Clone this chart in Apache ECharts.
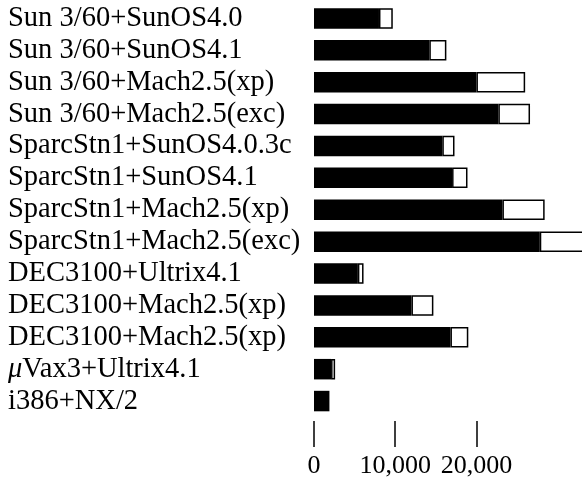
<!DOCTYPE html>
<html>
<head>
<meta charset="utf-8">
<script src="https://cdn.jsdelivr.net/npm/echarts@6/dist/echarts.min.js"></script>
<style>html,body{margin:0;padding:0;background:#fff}#c{width:582px;height:479px}</style>
</head>
<body>
<div id="c"></div>
<script>
const categories = [
  "Sun 3/60+SunOS4.0",
  "Sun 3/60+SunOS4.1",
  "Sun 3/60+Mach2.5(xp)",
  "Sun 3/60+Mach2.5(exc)",
  "SparcStn1+SunOS4.0.3c",
  "SparcStn1+SunOS4.1",
  "SparcStn1+Mach2.5(xp)",
  "SparcStn1+Mach2.5(exc)",
  "DEC3100+Ultrix4.1",
  "DEC3100+Mach2.5(xp)",
  "DEC3100+Mach2.5(xp)",
  "\u03bcVax3+Ultrix4.1",
  "i386+NX/2"
];
const blackValues = [8000, 14200, 20000, 22700, 15800, 17000, 23200, 27800, 5400, 12000, 16800, 2100, 1600];
const totalValues = [9700, 16300, 26000, 26600, 17300, 18900, 28400, 34000, 6100, 14700, 19000, 2600, 1900];
const whiteValues = totalValues.map((t, i) => t - blackValues[i]);
const tickValues = [0, 10000, 20000];

const chart = echarts.init(document.getElementById('c'));
chart.setOption({
  animation: false,
  backgroundColor: '#fff',
  grid: { left: 314, right: 0, top: 2.5, bottom: 61.7 },
  xAxis: {
    type: 'value',
    min: 0,
    max: 33000,
    offset: 4,
    splitLine: { show: false },
    axisLine: { show: false },
    axisTick: { show: true, length: 26, customValues: tickValues, lineStyle: { color: '#000', width: 1.5 } },
    axisLabel: {
      customValues: tickValues,
      margin: 32,
      color: '#000',
      fontFamily: 'Liberation Serif',
      fontSize: 26,
      formatter: v => v.toLocaleString('en-US')
    }
  },
  yAxis: {
    type: 'category',
    data: categories,
    inverse: true,
    axisLine: { show: false },
    axisTick: { show: false },
    axisLabel: {
      interval: 0,
      align: 'left',
      margin: 306,
      color: '#000',
      fontFamily: 'Liberation Serif',
      fontSize: 28.5,
      formatter: v => v.charAt(0) === '\u03bc' ? '{i|\u03bc}' + v.slice(1) : v,
      rich: {
        i: { fontStyle: 'italic', fontFamily: 'Liberation Serif', fontSize: 28.5, color: '#000' }
      }
    }
  },
  series: [
    {
      type: 'bar', stack: 'a', data: blackValues, barWidth: 20.5, clip: false,
      itemStyle: { color: '#000' }
    },
    {
      type: 'bar', stack: 'a', data: whiteValues, barWidth: 20.5, clip: false,
      itemStyle: { color: '#fff', borderColor: '#000', borderWidth: 1.5 }
    }
  ]
});
</script>
</body>
</html>
